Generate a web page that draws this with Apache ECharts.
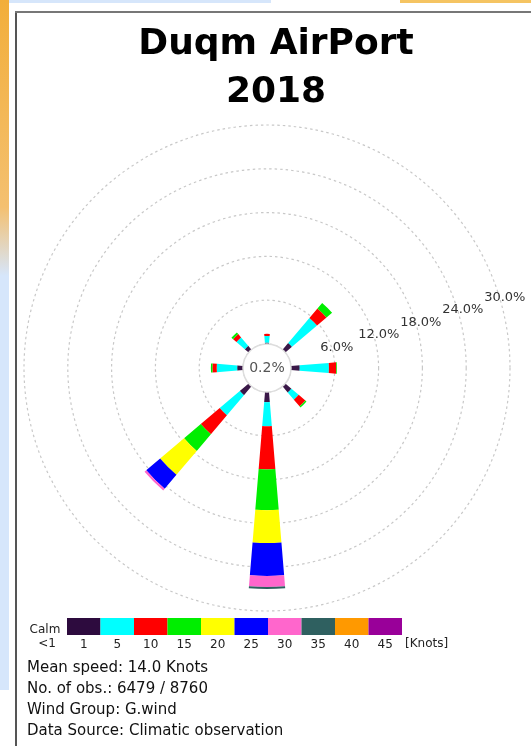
<!DOCTYPE html>
<html>
<head>
<meta charset="utf-8">
<script src="https://cdn.jsdelivr.net/npm/echarts@6/dist/echarts.min.js"></script>
<style>
html,body{margin:0;padding:0;background:#fff;}
#chart{width:531px;height:746px;}
</style>
</head>
<body>
<div id="chart"></div>
<script>
// ---- data ----
const directions = ['N','NE','E','SE','S','SW','W','NW'];
const speedLabels = ['1','5','10','15','20','25','30','35','40','45'];
const binColors = ['#3a1848','#00ffff','#ff0000','#00ee00','#ffff00','#0000ff','#ff66cc','#2f6060','#ff9900','#990099'];
const legendColors = ['#2d0b3e','#00ffff','#ff0000','#00ee00','#ffff00','#0000ff','#ff66cc','#2f6060','#ff9900','#990099'];
const binNames = ['1-5','5-10','10-15','15-20','20-25','25-30','30-35','35-40','40-45','>45'];
// frequency (%) per direction for each speed bin
const bin1  = [0.2, 1.2, 1.2, 1.1, 1.4, 1.6, 0.8, 0.7];
const bin2  = [0.9, 4.5, 4.0, 1.3, 3.3, 3.6, 2.8, 1.5];
const bin3  = [0.3, 1.7, 1.0, 1.2, 5.9, 3.4, 0.6, 0.6];
const bin4  = [0.0, 1.0, 0.1, 0.2, 5.6, 3.0, 0.2, 0.3];
const bin5  = [0.0, 0.0, 0.0, 0.0, 4.5, 4.3, 0.0, 0.0];
const bin6  = [0.0, 0.0, 0.0, 0.0, 4.5, 2.5, 0.0, 0.0];
const bin7  = [0.0, 0.0, 0.0, 0.0, 1.5, 0.3, 0.0, 0.0];
const bin8  = [0.0, 0.0, 0.0, 0.0, 0.3, 0.0, 0.0, 0.0];
const bin9  = [0, 0, 0, 0, 0, 0, 0, 0];
const bin10 = [0, 0, 0, 0, 0, 0, 0, 0];
const bins = [bin1, bin2, bin3, bin4, bin5, bin6, bin7, bin8, bin9, bin10];
const calmPct = 0.2;
const titleLines = ['Duqm AirPort', '2018'];
const infoLines = ['Mean speed: 14.0 Knots', 'No. of obs.: 6479 / 8760', 'Wind Group: G.wind', 'Data Source: Climatic observation'];

// ---- layout ----
const CX = 267, CY = 368, R0 = 24, R1 = 243;
const FONT = 'DejaVu Sans';

const chart = echarts.init(document.getElementById('chart'), null, {renderer: 'canvas'});

const roseSeries = bins.map((d, i) => ({
  type: 'bar',
  name: binNames[i],
  coordinateSystem: 'polar',
  polarIndex: 0,
  stack: 'rose',
  barWidth: '21%',
  data: d,
  itemStyle: {color: binColors[i]},
  silent: true,
  z: 3
}));

const legendSeries = {
  type: 'bar',
  xAxisIndex: 0,
  yAxisIndex: 0,
  barWidth: '100%',
  data: speedLabels.map((s, i) => ({value: 1, itemStyle: {color: legendColors[i]}})),
  silent: true
};

const option = {
  animation: false,
  backgroundColor: '#ffffff',
  title: {
    text: titleLines.join('\n'),
    left: 271,
    top: 16,
    textAlign: 'center',
    textStyle: {fontFamily: FONT, fontWeight: 'bold', fontSize: 36, lineHeight: 48, color: '#000'}
  },
  polar: [
    {center: [CX, CY], radius: [R0, R1]},
    {center: [CX, CY], radius: [R0 + 5, R1 + 5]}
  ],
  angleAxis: [
    {
      polarIndex: 0, type: 'category', data: directions,
      startAngle: 90 + 22.5, clockwise: true, boundaryGap: true,
      axisLine: {show: false}, axisTick: {show: false}, axisLabel: {show: false}, splitLine: {show: false}
    },
    {
      polarIndex: 1, type: 'value', min: 0, max: 360, startAngle: 16.5,
      axisLine: {show: false}, axisTick: {show: false}, axisLabel: {show: false}, splitLine: {show: false}
    }
  ],
  radiusAxis: [
    {
      polarIndex: 0, type: 'value', min: 0, max: 30, interval: 6,
      axisLine: {show: false}, axisTick: {show: false}, axisLabel: {show: false},
      splitLine: {show: true, lineStyle: {color: '#c8c8c8', width: 1.2, type: [2.5, 3]}}
    },
    {
      polarIndex: 1, type: 'value', min: 0, max: 30, interval: 6,
      axisLine: {show: false}, axisTick: {show: false}, splitLine: {show: false},
      axisLabel: {
        show: true, showMinLabel: false, margin: 0,
        align: 'center', verticalAlign: 'middle',
        fontFamily: FONT, fontSize: 13, color: '#333',
        formatter: v => v === 0 ? '' : v.toFixed(1) + '%'
      }
    }
  ],
  grid: {left: 67, top: 618, width: 335, height: 17},
  xAxis: {
    type: 'category', data: speedLabels,
    axisLine: {show: false}, axisTick: {show: false},
    axisLabel: {fontFamily: FONT, fontSize: 12, color: '#222', margin: 4}
  },
  yAxis: {type: 'value', min: 0, max: 1, show: false},
  series: roseSeries.concat([legendSeries]),
  graphic: [
    {type: 'rect', shape: {x: 0, y: 0, width: 9, height: 690},
     style: {fill: new echarts.graphic.LinearGradient(0, 0, 0, 1, [
       {offset: 0, color: '#f2ae3a'}, {offset: 0.3, color: '#f4c070'}, {offset: 0.4, color: '#d6e6fb'}, {offset: 1, color: '#d6e6fb'}])}, silent: true},
    {type: 'rect', shape: {x: 9, y: 0, width: 262, height: 3}, style: {fill: '#d6e6fb'}, silent: true},
    {type: 'rect', shape: {x: 400, y: 0, width: 131, height: 3}, style: {fill: '#f5c462'}, silent: true},
    {type: 'line', shape: {x1: 16, y1: 11, x2: 16, y2: 746}, style: {stroke: '#555', lineWidth: 2}, silent: true},
    {type: 'line', shape: {x1: 15, y1: 12, x2: 531, y2: 12}, style: {stroke: '#777', lineWidth: 2}, silent: true},
    {type: 'circle', shape: {cx: CX, cy: CY, r: R0}, style: {fill: '#fff', stroke: '#dddddd', lineWidth: 1.5}, z: 10, silent: true},
    {type: 'text', x: CX, y: CY, z: 11, silent: true,
     style: {text: calmPct.toFixed(1) + '%', fontFamily: FONT, fontSize: 14, fill: '#555', align: 'center', verticalAlign: 'middle'}},
    {type: 'text', x: 45, y: 630, silent: true,
     style: {text: 'Calm', fontFamily: FONT, fontSize: 12, fill: '#222', align: 'center', verticalAlign: 'middle'}},
    {type: 'text', x: 47, y: 644, silent: true,
     style: {text: '<1', fontFamily: FONT, fontSize: 12, fill: '#222', align: 'center', verticalAlign: 'middle'}},
    {type: 'text', x: 405, y: 644, silent: true,
     style: {text: '[Knots]', fontFamily: FONT, fontSize: 12, fill: '#222', align: 'left', verticalAlign: 'middle'}}
  ].concat(infoLines.map((t, i) => ({
    type: 'text', x: 27, y: 668 + i * 21, silent: true,
    style: {text: t, fontFamily: FONT, fontSize: 15, fill: '#111', align: 'left', verticalAlign: 'middle'}
  })))
};
chart.setOption(option);
</script>
</body>
</html>
